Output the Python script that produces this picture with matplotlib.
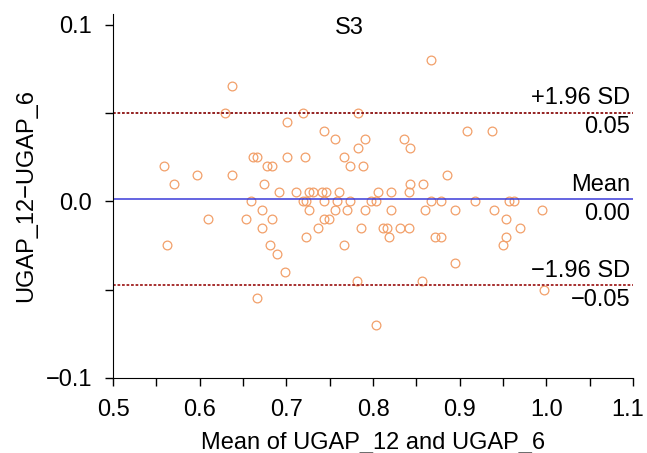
import matplotlib.pyplot as plt
from matplotlib.transforms import ScaledTranslation

# Bland-Altman data (mean of the two methods, difference)
means = [0.867,
         0.637,
         0.629, 0.719, 0.783,
         0.701,
         0.744, 0.908, 0.937,
         0.756, 0.791, 0.836,
         0.783, 0.843,
         0.661, 0.666, 0.701, 0.721, 0.766,
         0.559, 0.678, 0.684, 0.773, 0.789,
         0.597, 0.637, 0.885,
         0.570, 0.674, 0.843, 0.858,
         0.691, 0.711, 0.726, 0.731, 0.741, 0.746, 0.761, 0.806, 0.821, 0.841,
         0.659, 0.719, 0.723, 0.744, 0.758, 0.773, 0.798, 0.803, 0.867, 0.878, 0.918, 0.957, 0.963,
         0.672, 0.726, 0.756, 0.770, 0.791, 0.821, 0.860, 0.895, 0.940, 0.995,
         0.610, 0.654, 0.684, 0.744, 0.749, 0.953,
         0.672, 0.736, 0.786, 0.811, 0.816, 0.831, 0.841, 0.970,
         0.723, 0.818, 0.872, 0.878, 0.953,
         0.562, 0.681, 0.766, 0.950,
         0.689,
         0.895,
         0.699,
         0.781, 0.856,
         0.997,
         0.666,
         0.803]
diffs = [0.08,
         0.065,
         0.05, 0.05, 0.05,
         0.045,
         0.04, 0.04, 0.04,
         0.035, 0.035, 0.035,
         0.03, 0.03,
         0.025, 0.025, 0.025, 0.025, 0.025,
         0.02, 0.02, 0.02, 0.02, 0.02,
         0.015, 0.015, 0.015,
         0.01, 0.01, 0.01, 0.01,
         0.005, 0.005, 0.005, 0.005, 0.005, 0.005, 0.005, 0.005, 0.005, 0.005,
         0.0, 0.0, 0.0, 0.0, 0.0, 0.0, 0.0, 0.0, 0.0, 0.0, 0.0, 0.0, 0.0,
         -0.005, -0.005, -0.005, -0.005, -0.005, -0.005, -0.005, -0.005, -0.005, -0.005,
         -0.01, -0.01, -0.01, -0.01, -0.01, -0.01,
         -0.015, -0.015, -0.015, -0.015, -0.015, -0.015, -0.015, -0.015,
         -0.02, -0.02, -0.02, -0.02, -0.02,
         -0.025, -0.025, -0.025, -0.025,
         -0.03,
         -0.035,
         -0.04,
         -0.045, -0.045,
         -0.05,
         -0.055,
         -0.07]

mean_diff = 0.00125
upper_loa = 0.050
lower_loa = -0.0475

plt.rcParams['font.family'] = ['Liberation Sans', 'DejaVu Sans']

fig = plt.figure(figsize=(6.47, 4.53), dpi=100)
ax = fig.add_axes([0.1747, 0.1656, 0.8037, 0.8035])

# points
ax.plot(means, diffs, linestyle="none", marker="o", markersize=6.3,
        markerfacecolor="none", markeredgecolor="#F2A06A", markeredgewidth=0.9)

# mean and limits of agreement
ax.axhline(mean_diff, color="#3A3AD8", linewidth=1.1)
ax.axhline(upper_loa, color="#8B1010", linewidth=1.3, linestyle=(0, (1.5, 1)))
ax.axhline(lower_loa, color="#A02020", linewidth=1.3, linestyle=(0, (1.5, 1)))

# line labels
tr = ax.get_yaxis_transform()
fs = 17
ax.text(0.995, upper_loa + 0.002, "+1.96 SD", transform=tr, ha="right", va="bottom", fontsize=fs)
ax.text(0.995, upper_loa - 0.002, "%.2f" % upper_loa, transform=tr, ha="right", va="top", fontsize=fs)
ax.text(0.995, mean_diff + 0.002, "Mean", transform=tr, ha="right", va="bottom", fontsize=fs)
ax.text(0.995, mean_diff - 0.002, "%.2f" % mean_diff, transform=tr, ha="right", va="top", fontsize=fs)
ax.text(0.995, lower_loa + 0.002, "\u22121.96 SD", transform=tr, ha="right", va="bottom", fontsize=fs)
ax.text(0.995, lower_loa - 0.002, "\u2212%.2f" % abs(lower_loa), transform=tr, ha="right", va="top", fontsize=fs)

ax.text(0.773, 0.098, "S3", ha="center", va="center", fontsize=fs)

ax.set_xlim(0.5, 1.1)
ax.set_ylim(-0.1, 0.106)
ax.set_xticks([0.5, 0.55, 0.6, 0.65, 0.7, 0.75, 0.8, 0.85, 0.9, 0.95, 1.0, 1.05, 1.1])
ax.set_xticklabels(["0.5", "", "0.6", "", "0.7", "", "0.8", "", "0.9", "", "1.0", "", "1.1"])
ax.set_yticks([-0.1, -0.05, 0.0, 0.05, 0.1])
ax.set_yticklabels(["\u22120.1", "", "0.0", "", "0.1"])
ax.tick_params(direction="out", length=6, width=1, labelsize=fs, pad=9)

# nudge the last x label so it stays inside the figure
last = ax.get_xticklabels()[-1]
last.set_transform(last.get_transform() + ScaledTranslation(-4 / 72, 0, fig.dpi_scale_trans))

ax.spines["top"].set_visible(False)
ax.spines["right"].set_visible(False)

ax.set_xlabel("Mean of UGAP_12 and UGAP_6", fontsize=fs, labelpad=8)
ax.set_ylabel("UGAP_12\u2212UGAP_6", fontsize=fs, labelpad=6)

fig.savefig("out.png", dpi=100)
